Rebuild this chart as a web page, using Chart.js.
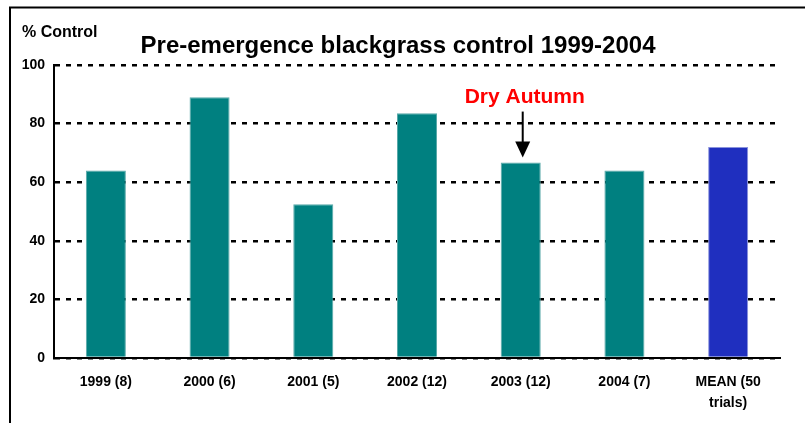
<!DOCTYPE html>
<html>
<head>
<meta charset="utf-8">
<script src="https://cdn.jsdelivr.net/npm/chart.js@4.4.1/dist/chart.umd.min.js"></script>
<style>
  html, body { margin: 0; padding: 0; background: #fff; }
  #wrap { width: 805px; height: 423px; }
</style>
</head>
<body>
<div id="wrap"><canvas id="grafico"></canvas></div>
<script>
// -------------dati-------------
const anni = ["1999 (8)", "2000 (6)", "2001 (5)", "2002 (12)", "2003 (12)", "2004 (7)", ["MEAN (50", "trials)"]];
const controllo = [64, 89, 52.5, 83.5, 66.7, 64, 72];
const coloriBarre = ["#008080", "#008080", "#008080", "#008080", "#008080", "#008080", "#1f2fbf"];
const bordiBarre = ["#5aa9a9", "#5aa9a9", "#5aa9a9", "#5aa9a9", "#5aa9a9", "#5aa9a9", "#8a92dc"];
const tickY = [0, 20, 40, 60, 80, 100];
const titolo = "Pre-emergence blackgrass control 1999-2004";
const titoloY = "% Control";
const nota = "Dry Autumn";
const notaIndice = 4;
// -------------dati-------------

const FONT = "'Liberation Sans', Arial, sans-serif";

// ------------------------------------PLUGIN TESTI E CORNICE------------------------------------
const extra = {
  id: 'extra',
  beforeDraw(chart) {
    const ctx = chart.ctx;
    ctx.save();
    ctx.fillStyle = '#fff';
    ctx.fillRect(0, 0, chart.width, chart.height);
    // cornice (solo sinistra e sopra)
    ctx.strokeStyle = '#000';
    ctx.lineWidth = 2;
    ctx.beginPath();
    ctx.moveTo(10, chart.height);
    ctx.lineTo(10, 7.5);
    ctx.lineTo(chart.width, 7.5);
    ctx.stroke();
    ctx.restore();
  },
  afterDraw(chart) {
    const ctx = chart.ctx;
    const x = chart.scales.x;
    const y = chart.scales.y;
    ctx.save();
    ctx.fillStyle = '#000';
    ctx.textBaseline = 'alphabetic';
    ctx.font = 'bold 24px ' + FONT;
    ctx.textAlign = 'center';
    ctx.fillText(titolo, 398, 53);
    ctx.font = 'bold 16px ' + FONT;
    ctx.textAlign = 'left';
    ctx.fillText(titoloY, 22, 37);

    // freccia "Dry Autumn"
    const px = x.getPixelForValue(notaIndice) + 2;
    const punta = y.getPixelForValue(controllo[notaIndice]) - 5;
    ctx.strokeStyle = '#000';
    ctx.lineWidth = 2;
    ctx.beginPath();
    ctx.moveTo(px, punta - 46);
    ctx.lineTo(px, punta - 14);
    ctx.stroke();
    ctx.beginPath();
    ctx.moveTo(px - 7.5, punta - 16);
    ctx.lineTo(px + 7.5, punta - 16);
    ctx.lineTo(px, punta);
    ctx.closePath();
    ctx.fill();

    ctx.fillStyle = '#ff0000';
    ctx.font = 'bold 21px ' + FONT;
    ctx.textAlign = 'center';
    ctx.fillText(nota, px + 2, punta - 55);
    ctx.restore();
  }
};
// ------------------------------------PLUGIN TESTI E CORNICE------------------------------------

const ctx = document.getElementById('grafico').getContext('2d');
const chart = new Chart(ctx, {
  type: 'bar',
  data: {
    labels: anni,
    datasets: [{
      data: controllo,
      backgroundColor: coloriBarre,
      borderColor: bordiBarre,
      borderWidth: 1,
      borderSkipped: 'bottom',
      barPercentage: 0.386,
      categoryPercentage: 1
    }]
  },
  options: {
    responsive: true,
    maintainAspectRatio: false,
    animation: false,
    layout: { padding: { top: 65, right: 25, left: 0, bottom: 0 } },
    plugins: {
      legend: { display: false },
      tooltip: { enabled: false },
      title: { display: false }
    },
    scales: {
      x: {
        grid: { display: false },
        border: { display: true, color: '#000', width: 2 },
        ticks: {
          color: '#000',
          padding: 6,
          maxRotation: 0,
          autoSkip: false,
          font: { family: FONT, size: 14, weight: 'bold', lineHeight: 1.5 }
        },
        afterFit(s) { s.height = 65; }
      },
      y: {
        min: 0,
        max: 100,
        afterBuildTicks(s) { s.ticks = tickY.map(v => ({ value: v })); },
        grid: { color: '#000', lineWidth: 2.5, drawTicks: false },
        border: { display: true, color: '#000', width: 2, dash: [5, 6] },
        ticks: {
          color: '#000',
          padding: 9,
          font: { family: FONT, size: 14, weight: 'bold' }
        },
        afterFit(s) { s.width = 54; }
      }
    }
  },
  plugins: [extra]
});
</script>
</body>
</html>
